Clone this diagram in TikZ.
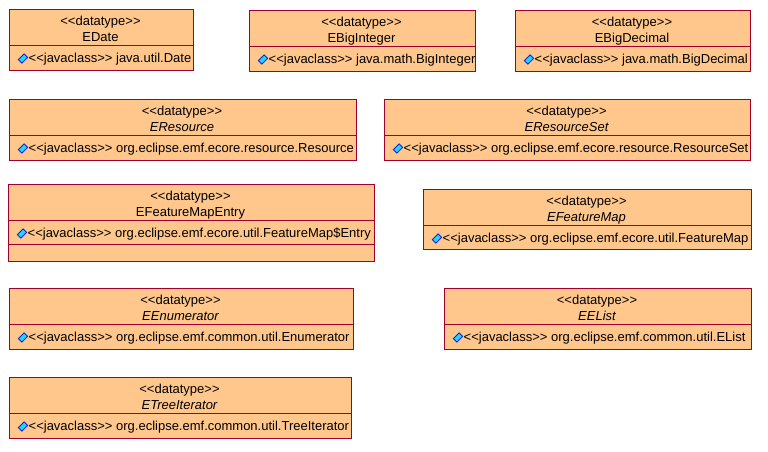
\documentclass[tikz,border=0pt]{standalone}
\usepackage{fontspec}
\setmainfont{Liberation Sans}
\definecolor{boxfill}{HTML}{FFC78C}
\definecolor{boxline}{HTML}{A00030}
\definecolor{iconfill}{HTML}{20D8F0}
\definecolor{iconline}{HTML}{1020E0}
\tikzset{
  umlbody/.style={draw=boxline,fill=boxfill,line width=1pt,rectangle,inner sep=0pt},
  umltext/.style={inner sep=0pt,font=\fontsize{13}{15}\selectfont,text=black,anchor=base},
  umlattr/.style={inner sep=0pt,font=\fontsize{13}{15}\selectfont,text=black,anchor=base west},
  umlicon/.style={draw=iconline,fill=iconfill,line width=.9pt,rectangle,rotate=45,minimum width=8pt,minimum height=5pt,inner sep=0pt},
  umlrule/.style={draw=boxline,line width=1pt},
}
% name, x1, y1, x2, y2, title, attribute
\newcommand{\umlclass}[7]{%
  \node[umlbody,minimum width=#4pt-#2pt,minimum height=#5pt-#3pt,anchor=north west] (#1) at (#2,#3) {};
  \node[umltext] (#1s) at ({(#2+#4)/2},#3+17) {<{}<datatype>{}>};
  \node[umltext] (#1n) at ({(#2+#4)/2},#3+33) {#6};
  \draw[umlrule] (#2,#3+37) -- (#4,#3+37);
  \node[umlicon] (#1i) at (#2+14.5,#3+50) {};
  \node[umlattr] (#1a) at (#2+20,#3+54) {<{}<javaclass>{}> #7};
}
\begin{document}
\begin{tikzpicture}[x=1pt,y=-1pt]
\path[use as bounding box] (0.5,0.5) rectangle (768.5,451.5);
\umlclass{edate}{9}{9}{193}{70}{EDate}{java.util.Date}
\umlclass{ebigint}{249}{10}{475}{71}{EBigInteger}{java.math.BigInteger}
\umlclass{ebigdec}{515}{10}{750}{71}{EBigDecimal}{java.math.BigDecimal}
\umlclass{eres}{9}{99}{356}{160}{\itshape EResource}{org.eclipse.emf.ecore.resource.Resource}
\umlclass{eresset}{384}{99}{750}{160}{\itshape EResourceSet}{org.eclipse.emf.ecore.resource.ResourceSet}
\umlclass{efme}{8}{184}{374}{261}{EFeatureMapEntry}{org.eclipse.emf.ecore.util.FeatureMap\$Entry}
\draw[umlrule] (8,245) -- (374,245);
\umlclass{efm}{423}{189}{751}{249}{\itshape EFeatureMap}{org.eclipse.emf.ecore.util.FeatureMap}
\umlclass{eenum}{9}{288}{353}{349}{\itshape EEnumerator}{org.eclipse.emf.common.util.Enumerator}
\umlclass{eelist}{444}{288}{751}{349}{\itshape EEList}{org.eclipse.emf.common.util.EList}
\umlclass{etree}{9}{377}{351}{438}{\itshape ETreeIterator}{org.eclipse.emf.common.util.TreeIterator}
\end{tikzpicture}
\end{document}
